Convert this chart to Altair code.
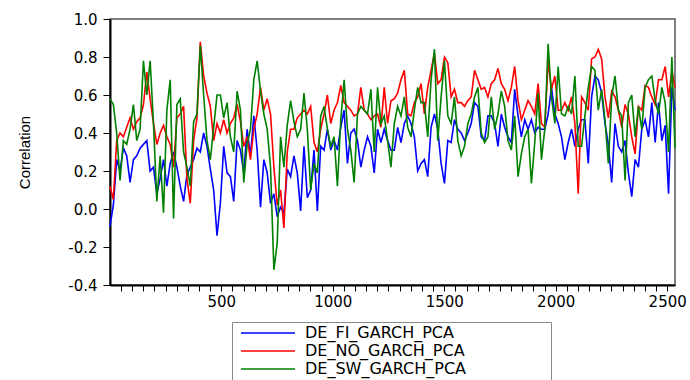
import altair as alt
import pandas as pd

# observation index (every 15th observation, plus the last one)
obs = list(range(1, 2522, 15)) + [2535]

names = ["DE_FI_GARCH_PCA", "DE_NO_GARCH_PCA", "DE_SW_GARCH_PCA"]
colors = ["#0000FF", "#FF0000", "#008000"]

fi = [-0.09, 0.02, 0.26, 0.20, 0.32, 0.28, 0.14, 0.26, 0.28, 0.32, 0.34, 0.36, 0.20, 0.22, 0.08, 0.16, 0.26, 0.12, 0.24, 0.30, 0.22, 0.12, 0.04, 0.18, 0.22, 0.26, 0.32, 0.30, 0.40,
      0.33, 0.21, 0.10, -0.14, 0.03, 0.33, 0.19, 0.17, 0.04, 0.36, 0.31, 0.19, 0.42, 0.28, 0.49, 0.31, 0.01, 0.26, 0.19, 0.03, 0.08, -0.04, 0.01, -0.02, 0.21, 0.17, 0.28, 0.19, -0.01,
      0.33, 0.06, 0.10, 0.31, -0.01, 0.33, 0.31, 0.42, 0.31, 0.36, 0.31, 0.43, 0.52, 0.24, 0.40, 0.42, 0.36, 0.22, 0.31, 0.38, 0.33, 0.19, 0.42, 0.35, 0.42, 0.36, 0.31, 0.31,
      0.43, 0.35, 0.45, 0.49, 0.45, 0.38, 0.20, 0.24, 0.26, 0.17, 0.43, 0.50, 0.42, 0.24, 0.135, 0.36, 0.35, 0.47, 0.42, 0.40, 0.36, 0.40, 0.45, 0.56, 0.54, 0.38, 0.36, 0.49,
      0.49, 0.45, 0.33, 0.50, 0.43, 0.38, 0.35, 0.63, 0.49, 0.38, 0.47, 0.42, 0.47, 0.40, 0.43, 0.42, 0.42, 0.50, 0.64, 0.50, 0.45, 0.38, 0.26, 0.35, 0.42, 0.33, 0.42, 0.47,
      0.47, 0.24, 0.59, 0.70, 0.68, 0.61, 0.45, 0.34, 0.14, 0.45, 0.33, 0.30, 0.36, 0.19, 0.065, 0.26, 0.22, 0.42, 0.47, 0.38, 0.56, 0.35, 0.56, 0.36, 0.44, 0.08, 0.64, 0.52]

no = [0.12, 0.05, 0.36, 0.40, 0.38, 0.43, 0.48, 0.42, 0.46, 0.48, 0.55, 0.72, 0.58, 0.45, 0.34, 0.40, 0.44, 0.38, 0.34, 0.22, 0.48, 0.50, 0.54, 0.16, 0.03, 0.36, 0.48, 0.88, 0.70,
      0.61, 0.54, 0.36, 0.45, 0.40, 0.47, 0.40, 0.45, 0.48, 0.55, 0.46, 0.33, 0.38, 0.26, 0.42, 0.50, 0.64, 0.52, 0.58, 0.50, 0.22, 0.02, 0.10, -0.10, 0.30, 0.42, 0.42, 0.48, 0.50,
      0.52, 0.50, 0.54, 0.35, 0.30, 0.42, 0.50, 0.60, 0.45, 0.52, 0.56, 0.65, 0.56, 0.54, 0.52, 0.49, 0.50, 0.64, 0.52, 0.50, 0.47, 0.49, 0.50, 0.43, 0.64, 0.45, 0.57, 0.58,
      0.61, 0.68, 0.73, 0.50, 0.49, 0.56, 0.59, 0.66, 0.50, 0.64, 0.73, 0.82, 0.66, 0.68, 0.80, 0.77, 0.59, 0.63, 0.56, 0.56, 0.54, 0.57, 0.59, 0.73, 0.68, 0.63, 0.64, 0.59,
      0.66, 0.68, 0.74, 0.66, 0.63, 0.57, 0.64, 0.75, 0.57, 0.47, 0.52, 0.57, 0.54, 0.50, 0.66, 0.45, 0.43, 0.78, 0.63, 0.70, 0.52, 0.52, 0.56, 0.52, 0.59, 0.45, 0.08, 0.59,
      0.56, 0.52, 0.79, 0.80, 0.84, 0.79, 0.59, 0.48, 0.62, 0.59, 0.52, 0.43, 0.55, 0.50, 0.38, 0.29, 0.54, 0.52, 0.65, 0.64, 0.59, 0.55, 0.68, 0.68, 0.75, 0.59, 0.73, 0.64]

sw = [0.58, 0.55, 0.40, 0.15, 0.36, 0.34, 0.42, 0.55, 0.36, 0.42, 0.78, 0.60, 0.78, 0.45, 0.04, 0.28, -0.02, 0.52, 0.68, -0.05, 0.55, 0.58, 0.30, 0.22, 0.12, 0.46, 0.50, 0.86, 0.60,
      0.36, 0.26, 0.43, 0.60, 0.60, 0.48, 0.56, 0.38, 0.30, 0.62, 0.52, 0.14, 0.34, 0.42, 0.68, 0.78, 0.62, 0.50, 0.42, 0.22, -0.32, -0.18, 0.38, 0.22, 0.44, 0.57, 0.46, 0.38, 0.42,
      0.61, 0.42, 0.10, 0.24, 0.19, 0.49, 0.54, 0.42, 0.33, 0.38, 0.12, 0.47, 0.68, 0.42, 0.31, 0.14, 0.50, 0.54, 0.52, 0.50, 0.63, 0.30, 0.64, 0.45, 0.49, 0.36, 0.22, 0.45,
      0.54, 0.49, 0.59, 0.43, 0.38, 0.52, 0.64, 0.56, 0.56, 0.38, 0.68, 0.84, 0.36, 0.59, 0.78, 0.49, 0.45, 0.59, 0.36, 0.28, 0.33, 0.45, 0.50, 0.59, 0.64, 0.40, 0.35, 0.38,
      0.59, 0.42, 0.50, 0.62, 0.54, 0.36, 0.31, 0.49, 0.17, 0.29, 0.38, 0.42, 0.135, 0.35, 0.61, 0.26, 0.42, 0.87, 0.59, 0.45, 0.75, 0.50, 0.49, 0.54, 0.50, 0.70, 0.33, 0.33,
      0.49, 0.64, 0.75, 0.73, 0.52, 0.63, 0.47, 0.24, 0.59, 0.70, 0.52, 0.49, 0.15, 0.56, 0.60, 0.38, 0.54, 0.42, 0.64, 0.68, 0.70, 0.57, 0.50, 0.64, 0.56, 0.30, 0.80, 0.32]

y_ticks = [-0.4, -0.2, 0.0, 0.2, 0.4, 0.6, 0.8, 1.0]
x_ticks = list(range(50, 2535, 50))

rows = []
for name, vals in zip(names, [fi, no, sw]):
    for o, v in zip(obs, vals):
        rows.append({"obs": o, "value": v, "series": name})
df = pd.DataFrame(rows)

tick_font = "DejaVu Sans"
# invisible trailing padding (kept from trimming by a zero-width char)
# so the legend frame is as wide as in the reference
pad = "\u00a0" * 16 + "\u200b"

chart = alt.Chart(df).mark_line(strokeWidth=1.6).encode(
    x=alt.X(
        "obs:Q",
        scale=alt.Scale(domain=[1, 2535], nice=False, zero=False),
        axis=alt.Axis(
            values=x_ticks,
            labelExpr="datum.value % 500 == 0 ? format(datum.value, 'd') : ''",
            title=None, grid=False, tickSize=6, tickColor="black",
            domainColor="black", domainWidth=2, labelPadding=3,
            labelFont=tick_font, labelFontSize=15, labelColor="black",
            labelOverlap=False, labelFlush=False,
        ),
    ),
    y=alt.Y(
        "value:Q",
        scale=alt.Scale(domain=[-0.4, 1.0], nice=False, zero=False),
        axis=alt.Axis(
            values=y_ticks, format=".1f",
            labelExpr="replace(datum.label, '\u2212', '-')",
            title="Correlation", titleFont="Liberation Sans", titleFontSize=15,
            titleFontWeight="normal", titleColor="black",
            titleX=-86, titleY=133, titleAlign="center", titleBaseline="middle",
            grid=False, tickSize=7, tickColor="black", domainColor="black",
            domainWidth=2, labelPadding=6, labelFont=tick_font, labelFontSize=15,
            labelColor="black", labelOverlap=False, labelFlush=False,
        ),
    ),
    color=alt.Color(
        "series:N",
        scale=alt.Scale(domain=names, range=colors),
        legend=alt.Legend(
            title=None, orient="none", legendX=122, legendY=303,
            direction="vertical", symbolType="M-5,0H5", symbolSize=117,
            symbolStrokeWidth=1.5, symbolOffset=25, labelOffset=29,
            labelExpr="datum.label + '" + pad + "'",
            labelFont=tick_font, labelFontSize=16, labelColor="black",
            labelLimit=400, padding=3, strokeColor="#888888",
            fillColor="white", rowPadding=2,
        ),
    ),
).properties(
    width=565, height=266,
    autosize=alt.AutoSizeParams(type="none"),
    padding={"left": 110, "top": 19, "right": 15, "bottom": 95},
).configure_view(stroke="#555555", strokeWidth=1.5)

chart.save("out.html", embed_options={"renderer": "svg", "actions": False})
